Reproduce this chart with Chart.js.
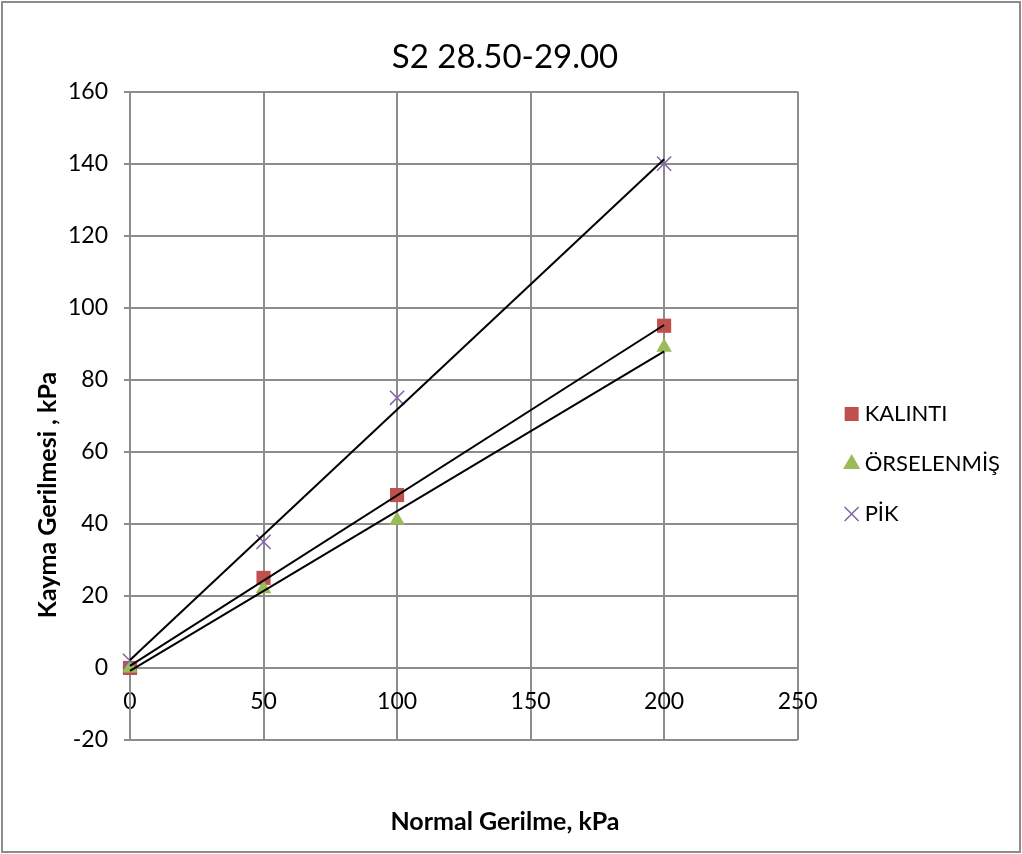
<!DOCTYPE html>
<html>
<head>
<meta charset="utf-8">
<title>S2 28.50-29.00</title>
<script src="https://cdn.jsdelivr.net/npm/chart.js@4.4.1/dist/chart.umd.min.js"></script>
<style>
  html, body { margin: 0; padding: 0; background: #fff; }
  #wrap { width: 1022px; height: 854px; }
</style>
</head>
<body>
<div id="wrap"><canvas id="chart" width="1022" height="854"></canvas></div>
<script>
// values
const normalStress = [0, 50, 100, 200];
const kalinti = [0, 25, 48, 95];
const orselenmis = [0, 22, 41, 89];
const pik = [2, 35, 75, 140];
const seriesNames = ['KALINTI', 'ÖRSELENMİŞ', 'PİK'];

// linear trend lines, end points
const trendX = [0, 200];
const kalintiTrend = [0.6, 95.2];
const orselenmisTrend = [-0.8, 87.9];
const pikTrend = [2.2, 141.2];

// axis ticks
const xTicks = [0, 50, 100, 150, 200, 250];
const yTicks = [-20, 0, 20, 40, 60, 80, 100, 120, 140, 160];

const gridColor = '#8c8c8c';
Chart.defaults.font.family = 'Lato';
Chart.defaults.color = '#000';

function pts(xs, ys) {
  return xs.map((x, i) => ({ x: x, y: ys[i] }));
}

function trend(ys) {
  return {
    data: pts(trendX, ys),
    showLine: true,
    borderColor: '#000',
    borderWidth: 2,
    pointRadius: 0,
    clip: false,
    order: 0
  };
}

// outer frame and the vertical axis title
const frame = {
  id: 'frame',
  afterDraw(chart) {
    const ctx = chart.ctx;
    ctx.save();
    ctx.strokeStyle = gridColor;
    ctx.lineWidth = 2;
    ctx.strokeRect(2, 2, chart.width - 4, chart.height - 4);
    ctx.translate(48, 495);
    ctx.rotate(-Math.PI / 2);
    ctx.font = 'bold 25px Lato';
    ctx.fillStyle = '#000';
    ctx.textAlign = 'center';
    ctx.textBaseline = 'middle';
    ctx.fillText('Kayma Gerilmesi , kPa', 0, 0);
    ctx.restore();
  }
};

new Chart('chart', {
  type: 'scatter',
  data: {
    datasets: [
      {
        label: seriesNames[0],
        data: pts(normalStress, kalinti),
        pointStyle: 'rect',
        pointRadius: 10,
        backgroundColor: '#C0504D',
        borderColor: '#C0504D',
        borderWidth: 0,
        clip: false,
        order: 3
      },
      {
        label: seriesNames[1],
        data: pts(normalStress, orselenmis),
        pointStyle: 'triangle',
        pointRadius: 9,
        backgroundColor: '#9BBB59',
        borderColor: '#9BBB59',
        borderWidth: 0,
        clip: false,
        order: 2
      },
      {
        label: seriesNames[2],
        data: pts(normalStress, pik),
        pointStyle: 'crossRot',
        pointRadius: 10,
        backgroundColor: '#8064A2',
        borderColor: '#8064A2',
        borderWidth: 1.5,
        clip: false,
        order: 1
      },
      trend(kalintiTrend),
      trend(orselenmisTrend),
      trend(pikTrend)
    ]
  },
  options: {
    responsive: false,
    animation: false,
    layout: { padding: { right: 12 } },
    plugins: {
      title: {
        display: true,
        text: 'S2 28.50-29.00',
        color: '#000',
        font: { size: 33, weight: 'normal' },
        padding: { top: 38, bottom: 14 }
      },
      subtitle: {
        display: true,
        position: 'bottom',
        text: 'Normal Gerilme, kPa',
        color: '#000',
        font: { size: 25, weight: 'bold' },
        padding: { top: 67, bottom: 17 }
      },
      legend: {
        position: 'right',
        fullSize: false,
        maxWidth: 240,
        title: { display: true, text: ' ', padding: { top: 82, bottom: 0 } },
        labels: {
          usePointStyle: true,
          boxWidth: 4,
          boxHeight: 14,
          padding: 28,
          color: '#000',
          font: { size: 22 },
          filter: item => item.datasetIndex < 3,
          sort: (a, b) => a.datasetIndex - b.datasetIndex
        }
      },
      tooltip: { enabled: false }
    },
    scales: {
      x: {
        type: 'linear',
        position: { y: 0 },
        min: xTicks[0],
        max: xTicks[xTicks.length - 1],
        ticks: { stepSize: xTicks[1] - xTicks[0], color: '#000', font: { size: 23 }, padding: 14 },
        grid: { color: gridColor, lineWidth: 2, tickLength: 6, tickColor: gridColor },
        border: { color: gridColor, width: 2 }
      },
      y: {
        type: 'linear',
        position: 'left',
        min: yTicks[0],
        max: yTicks[yTicks.length - 1],
        ticks: { stepSize: yTicks[1] - yTicks[0], color: '#000', font: { size: 23 }, padding: 16 },
        grid: { color: gridColor, lineWidth: 2, tickLength: 6, tickColor: gridColor },
        border: { color: gridColor, width: 2 },
        afterFit: s => { s.width = 130; }
      },
      y2: {
        position: 'right',
        display: true,
        grid: { display: false },
        border: { display: false },
        ticks: { display: false },
        afterFit: s => { s.width = 24; }
      }
    }
  },
  plugins: [frame]
});
</script>
</body>
</html>
